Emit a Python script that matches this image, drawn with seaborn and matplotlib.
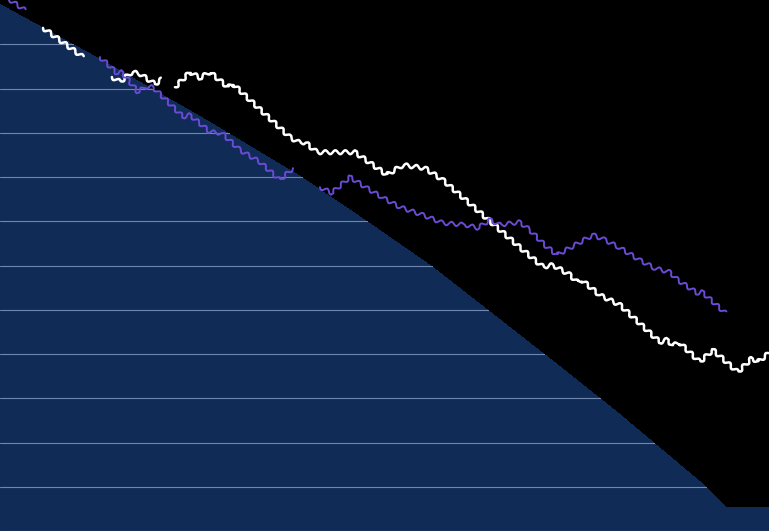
import matplotlib
matplotlib.use("Agg")
import matplotlib.pyplot as plt
import pandas as pd
import seaborn as sns

# values (x: step 0-200, y: level 0-120)
white_x = [[11.2, 21.6],
           [29.1, 31.2, 34.3, 36.4, 40.3, 42.1],
           [45.5, 49.4, 52.0, 54.6, 59.3, 60.6, 65.0, 75.4, 78.0, 79.3, 82.4, 92.3,
            100.6, 104.8, 110.5, 115.2, 136.0, 141.2, 143.8, 148.2, 150.1, 151.3,
            156.0, 161.2, 171.6, 173.5, 175.0, 176.8, 182.0, 185.4, 191.9, 195.6,
            197.1, 200.0]]
white_y = [[113.7, 107.1],
           [102.6, 101.5, 103.7, 103.3, 101.0, 102.1],
           [100.3, 103.7, 102.4, 103.7, 100.3, 101.0, 97.4, 89.0, 87.7, 87.9, 85.6, 85.6,
            80.5, 82.7, 82.0, 79.3, 63.5, 59.7, 60.1, 57.9, 56.3, 56.7,
            53.3, 51.1, 42.7, 43.2, 42.0, 42.5, 38.2, 40.9, 35.9, 39.1,
            38.2, 40.2]]

purple_x = [[1.3, 2.6, 6.5],
            [26.0, 30.4, 31.7, 35.9, 37.7, 39.8, 47.6, 49.4, 54.6, 57.7, 62.4, 67.6,
             72.8, 76.2],
            [83.2, 86.3, 91.0, 95.4, 99.6, 104.0, 110.0, 115.2, 120.9, 124.3, 127.4,
             130.0, 135.2, 137.8, 141.7, 144.9, 149.5, 154.2, 157.3, 161.2, 166.4,
             170.3, 174.2, 176.3, 181.3, 182.6, 188.6]]
purple_y = [[120.7, 120.0, 117.7],
            [107.1, 103.5, 103.7, 99.2, 100.3, 100.3, 93.6, 94.0, 90.2, 89.9, 86.1, 83.4,
             79.3, 82.0],
            [77.7, 76.4, 80.0, 77.5, 75.3, 73.2, 71.4, 69.6, 69.2, 68.5, 70.3,
             69.2, 69.8, 68.0, 64.6, 62.4, 64.6, 66.9, 65.8, 64.0, 61.2,
             59.4, 58.5, 56.7, 53.8, 54.0, 49.3]]

# edge of the dark area
edge_x = [0, 26, 52, 78, 95.7, 112.3, 130, 145.6, 161.2, 183.8, 189, 200]
edge_y = [119.3, 106.9, 94.0, 80.5, 70.1, 60.1, 48.1, 37.5, 26.7, 10.2, 5.6, 5.6]

NAVY = "#102b56"
COLORS = {"white": "#ffffff", "purple": "#6a4bd6"}
WIDTHS = {"white": 1.8, "purple": 1.4}

rows = []
for name, xs, ys in [("white", white_x, white_y), ("purple", purple_x, purple_y)]:
    for k, (sx, sy) in enumerate(zip(xs, ys)):
        for x, y in zip(sx, sy):
            rows.append({"x": x, "y": y, "series": name, "segment": f"{name}{k}"})
df = pd.DataFrame(rows)

sns.set_style("darkgrid", {"axes.facecolor": NAVY, "grid.color": "#6f87ae",
                           "figure.facecolor": "black"})
fig = plt.figure(figsize=(7.69, 5.31), dpi=100)
ax = fig.add_axes([0, 0, 1, 1])

ax.fill_between(edge_x, edge_y, 125, color="black", lw=0, antialiased=False, zorder=1)

sns.lineplot(data=df, x="x", y="y", hue="series", size="series", units="segment",
             estimator=None, sort=False, palette=COLORS, sizes=WIDTHS,
             legend=False, ax=ax, zorder=3)
for line in ax.lines:
    line.set_sketch_params(scale=2.0, length=10, randomness=1)
    line.set_solid_capstyle("round")

ax.set_xlim(0, 200)
ax.set_ylim(0, 120)
ax.set_yticks(range(0, 121, 10))
ax.grid(axis="x", visible=False)
ax.grid(axis="y", lw=0.8)
ax.set_axisbelow(True)
ax.tick_params(length=0, labelleft=False, labelbottom=False)
ax.set(xlabel="", ylabel="")
for s in ax.spines.values():
    s.set_visible(False)

fig.savefig("out.png", dpi=100, facecolor="black")
plt.close(fig)
